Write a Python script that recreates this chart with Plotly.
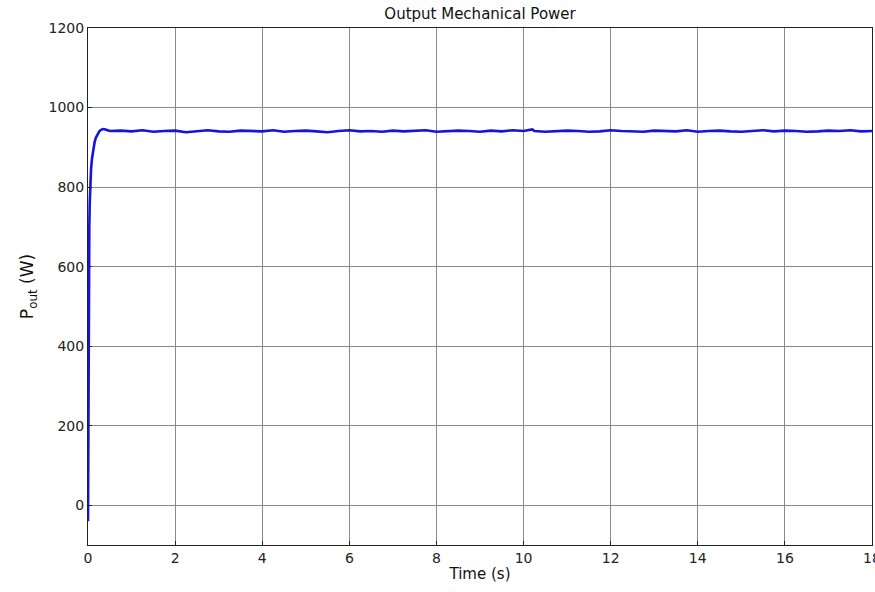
import plotly.graph_objects as go

# Time (s) and output mechanical power (W)
t_rise = [0.0, 0.005, 0.01, 0.02, 0.03, 0.04, 0.05, 0.07, 0.09, 0.12, 0.15, 0.18,
          0.22, 0.26, 0.30, 0.35, 0.40, 0.45, 0.50]
p_rise = [-40, 200, 420, 600, 700, 760, 800, 845, 870, 895, 912, 924,
          934, 940, 944, 946, 945, 943, 941]

t_steady = [0.75, 1.0, 1.25, 1.5, 1.75, 2.0, 2.25, 2.5, 2.75, 3.0, 3.25, 3.5, 3.75,
            4.0, 4.25, 4.5, 4.75, 5.0, 5.25, 5.5, 5.75, 6.0, 6.25, 6.5, 6.75, 7.0,
            7.25, 7.5, 7.75, 8.0, 8.25, 8.5, 8.75, 9.0, 9.25, 9.5, 9.75, 10.0, 10.2,
            10.25, 10.5, 10.75, 11.0, 11.25, 11.5, 11.75, 12.0, 12.25, 12.5, 12.75,
            13.0, 13.25, 13.5, 13.75, 14.0, 14.25, 14.5, 14.75, 15.0, 15.25, 15.5,
            15.75, 16.0, 16.25, 16.5, 16.75, 17.0, 17.25, 17.5, 17.75, 18.0]
p_steady = [942, 940, 943, 939, 941, 942, 938, 941, 943, 940, 939, 942, 941,
            940, 943, 939, 941, 942, 940, 938, 941, 943, 940, 941, 939, 942,
            940, 941, 943, 939, 940, 942, 941, 939, 942, 940, 943, 941, 945,
            941, 939, 940, 942, 941, 939, 940, 943, 941, 940, 939, 942,
            941, 940, 943, 939, 941, 942, 940, 939, 941, 943, 940, 942,
            941, 939, 940, 942, 941, 943, 940, 941]

time = t_rise + t_steady
power = p_rise + p_steady

x_ticks = [0, 2, 4, 6, 8, 10, 12, 14, 16, 18]
y_ticks = [0, 200, 400, 600, 800, 1000, 1200]

FONT = "DejaVu Sans, Arial"

fig = go.Figure()
fig.add_trace(go.Scatter(x=time, y=power, mode="lines",
                         line=dict(color="#1414e0", width=2.6),
                         showlegend=False))

axis_common = dict(showline=True, linecolor="#222", linewidth=1, mirror=True,
                   showgrid=True, gridcolor="#8a8a8a", gridwidth=1,
                   zeroline=False, ticks="inside", ticklen=4, tickcolor="#222",
                   automargin=False,
                   tickfont=dict(family=FONT, size=14, color="#222"))

fig.update_layout(
    width=875, height=592,
    margin=dict(l=88, r=3, t=28, b=47),
    paper_bgcolor="white", plot_bgcolor="white",
    title=dict(text="Output Mechanical Power", x=0.5486, xanchor="center",
               y=0.985, yanchor="top",
               font=dict(family=FONT, size=15, color="#111")),
    xaxis=dict(range=[0, 18], tickvals=x_ticks, ticklabeloverflow="allow",
               title=dict(text="Time (s)", standoff=3,
                          font=dict(family=FONT, size=15, color="#111")),
               **axis_common),
    yaxis=dict(range=[-100, 1200], tickvals=y_ticks,
               title=dict(text="P<sub>out</sub> (W)", standoff=10,
                          font=dict(family=FONT, size=17, color="#111")),
               **axis_common),
)

fig.write_html("out.html")
